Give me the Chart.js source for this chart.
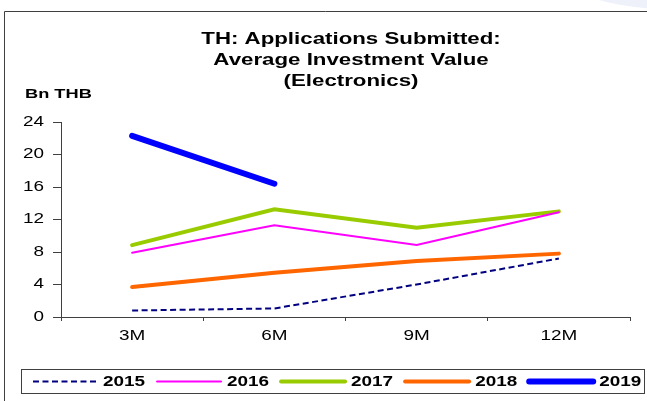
<!DOCTYPE html>
<html>
<head>
<meta charset="utf-8">
<script src="https://cdn.jsdelivr.net/npm/chart.js@4"></script>
<style>
    body { margin: 0; background: #fff; }
    canvas { display: block; }
</style>
</head>
<body>
<canvas id="myChart" width="647" height="401"></canvas>
<script>
// Chart data (Bn THB)
const periods = ['3M', '6M', '9M', '12M'];
const years = ['2015', '2016', '2017', '2018', '2019'];
const values2015 = [0.8, 1.05, 4.0, 7.2];
const values2016 = [7.9, 11.3, 8.85, 12.9];
const values2017 = [8.85, 13.25, 11.0, 13.0];
const values2018 = [3.7, 5.45, 6.9, 7.8];
const values2019 = [22.3, 16.4, null, null];
const yTicks = [0, 4, 8, 12, 16, 20, 24];

const titleLines = ['TH: Applications Submitted:', 'Average Investment Value', '(Electronics)'];
const unitLabel = 'Bn THB';

const FONT = "'Liberation Sans', Arial, sans-serif";
const AXIS = '#404040';
// the reference text looks horizontally stretched
const STRETCH = 1.35;

const canvas = document.getElementById('myChart');
const ctx = canvas.getContext('2d');

// draw every text a bit wider, anchored where it is placed
const origFillText = ctx.fillText;
ctx.fillText = function(text, x, y) {
    this.save();
    this.translate(x, y);
    this.scale(STRETCH, 1);
    origFillText.call(this, text, 0, 0);
    this.restore();
};

function series(label, data, color, width, dash) {
    return {
        label: label,
        data: data,
        borderColor: color,
        backgroundColor: color,
        borderWidth: width,
        borderDash: dash || [],
        borderCapStyle: dash ? 'butt' : 'round',
        pointRadius: 0,
        tension: 0,
        spanGaps: false
    };
}

const datasets = [
    series(years[0], values2015, '#000080', 2, [6, 3.5]),
    series(years[1], values2016, '#ff00ff', 2),
    series(years[2], values2017, '#99cc00', 4),
    series(years[3], values2018, '#ff6600', 4),
    series(years[4], values2019, '#0000ff', 6)
];

// frame, title, unit label and boxed legend
const decorations = {
    id: 'decorations',
    beforeDraw(chart) {
        const c = chart.ctx;
        c.save();
        // faint shape in the top right corner
        c.fillStyle = '#eef0fa';
        c.beginPath();
        c.ellipse(690, -14, 112, 24, 0, 0, Math.PI * 2);
        c.fill();
        // outer frame
        c.strokeStyle = AXIS;
        c.lineWidth = 1;
        c.beginPath();
        c.moveTo(4.5, chart.height);
        c.lineTo(4.5, 11.5);
        c.lineTo(chart.width, 11.5);
        c.stroke();
        c.restore();
    },
    afterDraw(chart) {
        const c = chart.ctx;
        c.save();
        c.fillStyle = '#000';

        // title
        c.font = 'bold 16.5px ' + FONT;
        c.textAlign = 'center';
        c.textBaseline = 'alphabetic';
        titleLines.forEach((line, i) => {
            c.fillText(line, 351, 44 + i * 21);
        });

        // unit label
        c.font = 'bold 13.5px ' + FONT;
        c.textAlign = 'left';
        c.fillText(unitLabel, 25, 98);

        // legend box
        c.strokeStyle = AXIS;
        c.lineWidth = 1;
        c.strokeRect(21.5, 369.5, 623, 24);

        const y = 381.5;
        let x = 33;
        c.font = 'bold 14px ' + FONT;
        c.textBaseline = 'middle';
        chart.data.datasets.forEach(ds => {
            c.save();
            c.strokeStyle = ds.borderColor;
            c.lineWidth = ds.borderWidth;
            c.setLineDash(ds.borderDash);
            c.lineCap = ds.borderCapStyle;
            c.beginPath();
            c.moveTo(x, y);
            c.lineTo(x + 64, y);
            c.stroke();
            c.restore();
            x += 70;
            c.fillText(ds.label, x, y + 1);
            x += c.measureText(ds.label).width * STRETCH + 12;
        });
        c.restore();
    }
};

const tickFont = { family: FONT, size: 14 };

new Chart(ctx, {
    type: 'line',
    data: {
        labels: periods,
        datasets: datasets
    },
    options: {
        responsive: false,
        animation: false,
        devicePixelRatio: 1,
        layout: { padding: { left: 0, right: 17, top: 122, bottom: 0 } },
        plugins: {
            legend: { display: false },
            title: { display: false },
            tooltip: { enabled: false }
        },
        scales: {
            x: {
                offset: true,
                grid: { offset: true, drawOnChartArea: false, tickLength: 4, color: AXIS },
                border: { color: AXIS },
                ticks: { padding: 7, color: '#000', font: tickFont },
                afterFit: scale => { scale.height = 84; }
            },
            y: {
                min: yTicks[0],
                max: yTicks[yTicks.length - 1],
                grid: { drawOnChartArea: false, tickLength: 8, color: AXIS },
                border: { color: AXIS },
                ticks: { stepSize: yTicks[1] - yTicks[0], padding: 9, color: '#000', font: tickFont },
                afterFit: scale => { scale.width = 61; }
            }
        }
    },
    plugins: [decorations]
});
</script>
</body>
</html>
